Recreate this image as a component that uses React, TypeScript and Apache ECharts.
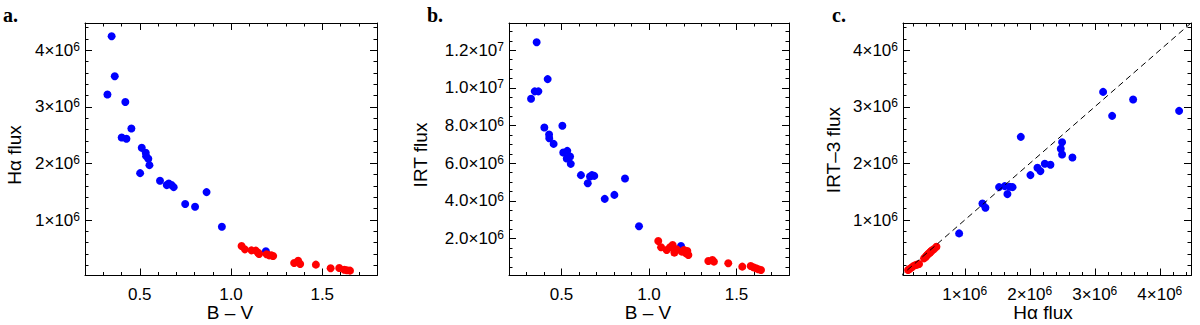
import React, { useEffect, useRef } from "react";
import * as echarts from "echarts";

const FONT = "'Liberation Sans', Arial, Helvetica, sans-serif";
const M = 1e6;

// ---------- Panel a: B-V vs Halpha flux ----------
const aBlueBV = [0.346, 0.363, 0.323, 0.421, 0.454, 0.401, 0.427, 0.511, 0.533, 0.535, 0.547, 0.553, 0.502, 0.611, 0.648, 0.659, 0.674, 0.686, 0.749, 0.803, 0.866, 0.950, 1.191];
const aBlueHa = [4.245, 3.54, 3.216, 3.086, 2.616, 2.457, 2.434, 2.275, 2.187, 2.128, 2.081, 1.969, 1.828, 1.693, 1.617, 1.646, 1.617, 1.581, 1.282, 1.235, 1.493, 0.882, 0.447];
const aRedBV = [1.058, 1.076, 1.112, 1.136, 1.149, 1.154, 1.195, 1.209, 1.222, 1.231, 1.346, 1.368, 1.379, 1.465, 1.546, 1.593, 1.621, 1.635, 1.652];
const aRedHa = [0.541, 0.482, 0.464, 0.459, 0.423, 0.400, 0.394, 0.376, 0.376, 0.364, 0.241, 0.282, 0.223, 0.212, 0.147, 0.153, 0.123, 0.112, 0.106];

// ---------- Panel b: B-V vs IRT flux ----------
const bBlueBV = [0.358, 0.421, 0.347, 0.368, 0.326, 0.402, 0.505, 0.429, 0.430, 0.455, 0.510, 0.533, 0.530, 0.549, 0.553, 0.611, 0.650, 0.663, 0.674, 0.687, 0.747, 0.802, 0.863, 0.943, 1.183];
const bBlueIRT = [12.43, 10.47, 9.82, 9.82, 9.43, 7.90, 7.99, 7.53, 7.33, 7.03, 6.57, 6.66, 6.25, 6.36, 5.97, 5.37, 4.94, 5.30, 5.37, 5.33, 4.11, 4.32, 5.19, 2.66, 1.61];
const bRedBV = [1.053, 1.069, 1.101, 1.120, 1.135, 1.145, 1.158, 1.187, 1.200, 1.211, 1.219, 1.225, 1.339, 1.362, 1.371, 1.453, 1.533, 1.581, 1.596, 1.611, 1.625, 1.640];
const bRedIRT = [1.876, 1.539, 1.397, 1.539, 1.663, 1.255, 1.433, 1.309, 1.397, 1.220, 1.344, 1.131, 0.812, 0.865, 0.777, 0.688, 0.511, 0.546, 0.475, 0.422, 0.369, 0.333];

// ---------- Panel c: Halpha flux vs IRT-3 flux ----------
const cBlueHa = [4.297, 3.59, 3.128, 3.267, 1.862, 2.497, 2.477, 2.497, 2.656, 2.318, 2.231, 2.118, 2.164, 2.010, 1.528, 1.615, 1.690, 1.735, 1.656, 1.272, 1.318, 0.913];
const cBlueIRT3 = [2.928, 3.128, 3.263, 2.840, 2.469, 2.375, 2.258, 2.158, 2.105, 1.975, 1.993, 1.922, 1.864, 1.793, 1.581, 1.599, 1.588, 1.581, 1.458, 1.293, 1.217, 0.764];
const cRedHa = [0.128, 0.150, 0.179, 0.210, 0.246, 0.270, 0.297, 0.374, 0.390, 0.410, 0.420, 0.435, 0.451, 0.460, 0.475, 0.487, 0.500, 0.528, 0.564];
const cRedIRT3 = [0.118, 0.135, 0.159, 0.185, 0.206, 0.215, 0.223, 0.323, 0.340, 0.364, 0.380, 0.395, 0.412, 0.420, 0.440, 0.453, 0.465, 0.488, 0.529];
const oneToOne = [[0, 0], [4.5, 4.5]];

// ---------- Ticks ----------
const bvMajor = [0.5, 1.0, 1.5];
const bvMinor = [0.3, 0.4, 0.6, 0.7, 0.8, 0.9, 1.1, 1.2, 1.3, 1.4, 1.6, 1.7];
const fluxMajor = [1, 2, 3, 4];
const fluxMinor = [0.2, 0.4, 0.6, 0.8, 1.2, 1.4, 1.6, 1.8, 2.2, 2.4, 2.6, 2.8, 3.2, 3.4, 3.6, 3.8, 4.2, 4.4];
const irtMajor = [2, 4, 6, 8, 10, 12];
const irtMinor = [0.5, 1, 1.5, 2.5, 3, 3.5, 4.5, 5, 5.5, 6.5, 7, 7.5, 8.5, 9, 9.5, 10.5, 11, 11.5, 12.5, 13];

const pairs = (xs: number[], ys: number[], sx = 1, sy = 1) => xs.map((x, i) => [x * sx, ys[i] * sy]);
const scale = (arr: number[], s: number) => arr.map((v) => v * s);

const rich = {
  b: { fontFamily: FONT, fontSize: 17, lineHeight: 19, color: "#000" },
  e: { fontFamily: FONT, fontSize: 12, lineHeight: 12, verticalAlign: "top", color: "#000" },
};

const fmtFlux = (v: number) => `{b|${Math.round(v / M)}×10}{e|6}`;
const fmtIRT = (v: number) =>
  v >= 1e7 - 1 ? `{b|${(v / 1e7).toFixed(1)}×10}{e|7}` : `{b|${(v / M).toFixed(1)}×10}{e|6}`;
const fmtBV = (v: number) => `{b|${v.toFixed(1)}}`;

function axesFor(
  gi: number,
  dir: "x" | "y",
  min: number,
  max: number,
  major: number[],
  minor: number[],
  fmt: (v: number) => string
) {
  const base = {
    type: "value",
    gridIndex: gi,
    min,
    max,
    splitLine: { show: false },
    axisPointer: { show: false },
  };
  const line = { show: true, onZero: false, lineStyle: { color: "#000", width: 1 } };
  const noLine = { show: false, onZero: false };
  const pos1 = dir === "x" ? "bottom" : "left";
  const pos2 = dir === "x" ? "top" : "right";
  const mk = (position: string, withLine: boolean, ticks: number[], len: number, labels: boolean) => ({
    ...base,
    position,
    axisLine: withLine ? line : noLine,
    axisTick: { show: true, inside: true, length: len, customValues: ticks, lineStyle: { color: "#000", width: 1 } },
    axisLabel: labels
      ? {
          show: true,
          customValues: major,
          formatter: fmt,
          rich,
          margin: dir === "x" ? 9 : 5,
          color: "#000",
          fontFamily: FONT,
          fontSize: 17,
        }
      : { show: false },
  });
  return [
    mk(pos1, true, major, 7, true),
    mk(pos1, false, minor, 3.5, false),
    mk(pos2, true, major, 7, false),
    mk(pos2, false, minor, 3.5, false),
  ];
}

export default function App() {
  const ref = useRef<HTMLDivElement>(null);
  useEffect(() => {
    if (!ref.current) return;
    const chart = echarts.init(ref.current, undefined, { renderer: "svg" });
    const grids = [
      { left: 85, top: 23, width: 292, height: 252.5 },
      { left: 509, top: 23, width: 280, height: 252.5 },
      { left: 903, top: 23, width: 288, height: 252.5 },
    ];
    const xAxis = [
      ...axesFor(0, "x", 0.2, 1.8, bvMajor, bvMinor, fmtBV),
      ...axesFor(1, "x", 0.2, 1.8, bvMajor, bvMinor, fmtBV),
      ...axesFor(2, "x", 0.05 * M, 4.48 * M, scale(fluxMajor, M), scale(fluxMinor, M), fmtFlux),
    ];
    const yAxis = [
      ...axesFor(0, "y", 0.02 * M, 4.48 * M, scale(fluxMajor, M), scale(fluxMinor, M), fmtFlux),
      ...axesFor(1, "y", 0.04 * M, 13.45 * M, scale(irtMajor, M), scale(irtMinor, M), fmtIRT),
      ...axesFor(2, "y", 0.02 * M, 4.48 * M, scale(fluxMajor, M), scale(fluxMinor, M), fmtFlux),
    ];
    const dot = (gi: number, data: number[][], color: string) => ({
      type: "scatter",
      xAxisIndex: gi * 4,
      yAxisIndex: gi * 4,
      data,
      symbol: "circle",
      symbolSize: 8,
      itemStyle: { color, opacity: 1 },
      silent: true,
    });
    const title = (text: string, x: number, y: number, rot = 0) => ({
      type: "text",
      x,
      y,
      rotation: rot,
      style: { text, fontFamily: FONT, fontSize: 19, fill: "#000", align: "center", verticalAlign: "middle" },
    });
    const letter = (text: string, x: number, y: number) => ({
      type: "text",
      x,
      y,
      style: {
        text,
        fontFamily: "'Liberation Serif', 'Times New Roman', serif",
        fontWeight: "bold",
        fontSize: 20,
        fill: "#000",
        align: "left",
        verticalAlign: "top",
      },
    });
    chart.setOption({
      animation: false,
      backgroundColor: "#fff",
      grid: grids,
      xAxis,
      yAxis,
      series: [
        dot(0, pairs(aBlueBV, aBlueHa, 1, M), "#0000ff"),
        dot(0, pairs(aRedBV, aRedHa, 1, M), "#ff0000"),
        dot(1, pairs(bBlueBV, bBlueIRT, 1, M), "#0000ff"),
        dot(1, pairs(bRedBV, bRedIRT, 1, M), "#ff0000"),
        {
          type: "line",
          xAxisIndex: 8,
          yAxisIndex: 8,
          data: pairs(oneToOne.map((p) => p[0]), oneToOne.map((p) => p[1]), M, M),
          symbol: "none",
          clip: true,
          silent: true,
          lineStyle: { color: "#000", width: 1, type: [6, 4] },
        },
        dot(2, pairs(cBlueHa, cBlueIRT3, M, M), "#0000ff"),
        dot(2, pairs(cRedHa, cRedIRT3, M, M), "#ff0000"),
      ],
      graphic: [
        letter("a.", 3, 5),
        letter("b.", 427, 5),
        letter("c.", 832, 5),
        title("Hα flux", 14, 155, Math.PI / 2),
        title("B – V", 230, 312),
        title("IRT flux", 420, 155, Math.PI / 2),
        title("B – V", 648, 312),
        title("IRT–3 flux", 833, 150, Math.PI / 2),
        title("Hα flux", 1043, 312),
      ],
    });
    return () => chart.dispose();
  }, []);
  return <div ref={ref} style={{ position: "fixed", left: 0, top: 0, width: 1200, height: 325 }} />;
}
